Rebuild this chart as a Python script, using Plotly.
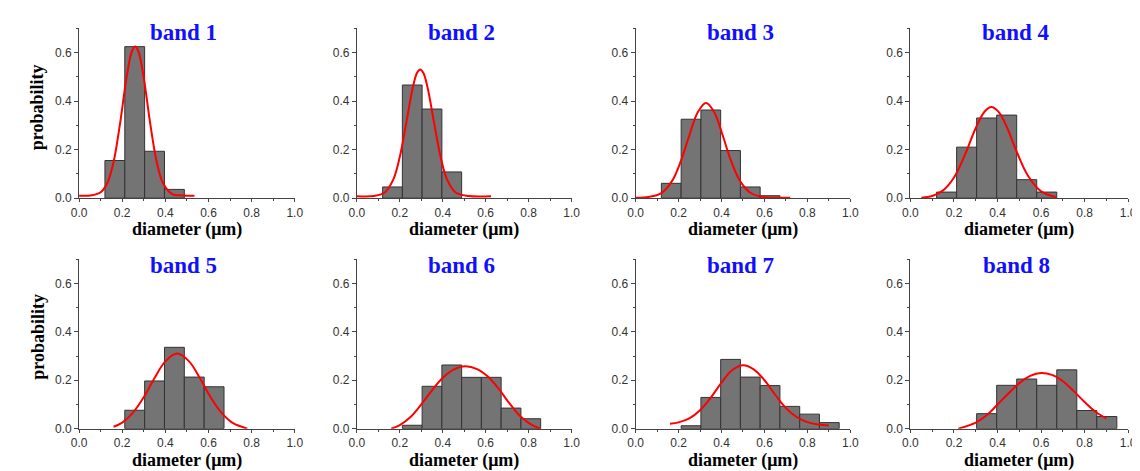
import plotly.graph_objects as go

# ---------------- data ----------------
band_names = ["band 1", "band 2", "band 3", "band 4", "band 5", "band 6", "band 7", "band 8"]
x_title = "diameter (μm)"
y_title = "probability"

bin_start = 0.12
bin_width = 0.092
n_bins = 9

# probability per bin (None = empty bin)
band1_prob = [0.155, 0.624, 0.193, 0.036, None, None, None, None, None]
band2_prob = [0.046, 0.466, 0.367, 0.108, None, None, None, None, None]
band3_prob = [0.061, 0.325, 0.363, 0.196, 0.046, 0.010, None, None, None]
band4_prob = [0.025, 0.210, 0.330, 0.342, 0.076, 0.025, None, None, None]
band5_prob = [None, 0.076, 0.197, 0.336, 0.213, 0.173, None, None, None]
band6_prob = [None, 0.014, 0.175, 0.263, 0.212, 0.212, 0.085, 0.041, None]
band7_prob = [None, 0.012, 0.129, 0.286, 0.213, 0.178, 0.092, 0.060, 0.025]
band8_prob = [None, None, 0.062, 0.179, 0.205, 0.179, 0.243, 0.075, 0.050]

# fitted curves
band1_fit_x = [0.0, 0.06, 0.10, 0.13, 0.16, 0.19, 0.22, 0.245, 0.26, 0.275, 0.30, 0.33, 0.36, 0.39, 0.43, 0.48, 0.535]
band1_fit_y = [0.010, 0.012, 0.024, 0.060, 0.149, 0.307, 0.495, 0.605, 0.625, 0.605, 0.495, 0.307, 0.149, 0.060, 0.018, 0.011, 0.010]
band2_fit_x = [0.0, 0.08, 0.13, 0.17, 0.20, 0.23, 0.26, 0.28, 0.295, 0.31, 0.33, 0.36, 0.39, 0.42, 0.46, 0.52, 0.625]
band2_fit_y = [0.008, 0.009, 0.023, 0.077, 0.170, 0.309, 0.453, 0.515, 0.530, 0.515, 0.453, 0.309, 0.170, 0.077, 0.023, 0.009, 0.008]
band3_fit_x = [0.0, 0.06, 0.12, 0.17, 0.21, 0.25, 0.29, 0.328, 0.365, 0.405, 0.445, 0.49, 0.54, 0.60, 0.72]
band3_fit_y = [0.002, 0.005, 0.021, 0.071, 0.151, 0.258, 0.355, 0.392, 0.356, 0.260, 0.152, 0.065, 0.019, 0.004, 0.002]
band4_fit_x = [0.05, 0.10, 0.15, 0.20, 0.25, 0.30, 0.34, 0.372, 0.405, 0.44, 0.49, 0.54, 0.60, 0.67]
band4_fit_y = [0.002, 0.009, 0.032, 0.085, 0.178, 0.289, 0.356, 0.375, 0.355, 0.298, 0.187, 0.092, 0.028, 0.004]
band5_fit_x = [0.16, 0.20, 0.25, 0.30, 0.35, 0.40, 0.455, 0.51, 0.56, 0.61, 0.66, 0.71, 0.78]
band5_fit_y = [0.008, 0.025, 0.066, 0.130, 0.209, 0.278, 0.310, 0.278, 0.209, 0.130, 0.066, 0.025, 0.0]
band6_fit_x = [0.16, 0.20, 0.25, 0.30, 0.35, 0.40, 0.45, 0.505, 0.56, 0.61, 0.66, 0.71, 0.76, 0.81, 0.855]
band6_fit_y = [0.0, 0.015, 0.048, 0.100, 0.158, 0.210, 0.244, 0.258, 0.246, 0.215, 0.165, 0.105, 0.052, 0.018, 0.0]
band7_fit_x = [0.16, 0.20, 0.25, 0.30, 0.35, 0.40, 0.45, 0.50, 0.55, 0.60, 0.65, 0.70, 0.75, 0.80, 0.85, 0.90]
band7_fit_y = [0.020, 0.026, 0.042, 0.076, 0.128, 0.190, 0.242, 0.262, 0.245, 0.200, 0.140, 0.085, 0.048, 0.027, 0.017, 0.013]
band8_fit_x = [0.22, 0.30, 0.35, 0.40, 0.45, 0.50, 0.55, 0.60, 0.65, 0.70, 0.75, 0.80, 0.85, 0.90]
band8_fit_y = [0.0, 0.025, 0.055, 0.100, 0.145, 0.188, 0.218, 0.230, 0.222, 0.196, 0.155, 0.110, 0.070, 0.042]

x_tick_vals = [0.0, 0.2, 0.4, 0.6, 0.8, 1.0]
x_tick_text = ["0.0", "0.2", "0.4", "0.6", "0.8", "1.0"]
y_tick_vals = [0.0, 0.2, 0.4, 0.6]
y_tick_text = ["0.0", "0.2", "0.4", "0.6"]

probs = [band1_prob, band2_prob, band3_prob, band4_prob,
         band5_prob, band6_prob, band7_prob, band8_prob]
fits = [(band1_fit_x, band1_fit_y), (band2_fit_x, band2_fit_y), (band3_fit_x, band3_fit_y),
        (band4_fit_x, band4_fit_y), (band5_fit_x, band5_fit_y), (band6_fit_x, band6_fit_y),
        (band7_fit_x, band7_fit_y), (band8_fit_x, band8_fit_y)]

bin_centers = [bin_start + bin_width * (i + 0.5) for i in range(n_bins)]

# ---------------- layout geometry ----------------
W, H = 1140, 471
col_px = [(64, 283), (346, 564), (629, 847), (908, 1129)]
row_px = [(20.5, 193), (255, 427)]      # (top, bottom) in px
band_title_y = [25, 261]
x_title_bottom = [237, 471]
y_title_y = [101, 334]

fig = go.Figure()
layout = dict(
    width=W, height=H,
    margin=dict(l=0, r=0, t=0, b=0),
    paper_bgcolor="white", plot_bgcolor="white",
    showlegend=False,
    annotations=[],
)

axis_color = "#444444"
tick_font = dict(family="Liberation Sans, Arial, sans-serif", size=12, color="#333333")
serif = "Liberation Serif, Times New Roman, serif"
title_font = dict(family=serif, size=18, color="black")

for k in range(8):
    r, c = divmod(k, 4)
    xa = "x" if k == 0 else f"x{k+1}"
    ya = "y" if k == 0 else f"y{k+1}"
    xkey = "xaxis" if k == 0 else f"xaxis{k+1}"
    ykey = "yaxis" if k == 0 else f"yaxis{k+1}"
    x0, x1 = col_px[c]
    top, bot = row_px[r]

    fig.add_trace(go.Bar(
        x=bin_centers, y=probs[k], width=bin_width,
        marker=dict(color="#747474", line=dict(color="#333333", width=1)),
        xaxis=xa, yaxis=ya, hoverinfo="skip",
    ))
    fx, fy = fits[k]
    fig.add_trace(go.Scatter(
        x=fx, y=fy, mode="lines", line=dict(color="#ff0000", width=2, shape="spline", smoothing=1.0),
        xaxis=xa, yaxis=ya, hoverinfo="skip",
    ))

    layout[xkey] = dict(
        domain=[x0 / W, x1 / W], anchor=ya, range=[0, 1.0],
        showline=True, linecolor=axis_color, linewidth=1,
        ticks="outside", ticklen=3, tickcolor=axis_color,
        tickvals=x_tick_vals, ticktext=x_tick_text, tickfont=tick_font,
        minor=dict(dtick=0.1, ticks="outside", ticklen=2, tickcolor=axis_color, showgrid=False),
        showgrid=False, zeroline=False,
    )
    layout[ykey] = dict(
        domain=[1 - bot / H, 1 - top / H], anchor=xa, range=[0, 0.7],
        showline=True, linecolor=axis_color, linewidth=1,
        ticks="outside", ticklen=4, tickcolor=axis_color,
        tickvals=y_tick_vals, ticktext=y_tick_text, tickfont=tick_font,
        minor=dict(dtick=0.1, ticks="outside", ticklen=2, tickcolor=axis_color, showgrid=False),
        showgrid=False, zeroline=False,
    )

    # band title
    layout["annotations"].append(dict(
        text=f"<b>{band_names[k]}</b>", xref="paper", yref="paper",
        x=((x0 + x1) / 2 - 3) / W, y=1 - band_title_y[r] / H,
        xanchor="center", yanchor="middle", showarrow=False,
        font=dict(family=serif, size=23, color="#1010ff"),
    ))
    # x-axis title
    layout["annotations"].append(dict(
        text=f"<b>{x_title}</b>", xref="paper", yref="paper",
        x=((x0 + x1) / 2) / W, y=1 - x_title_bottom[r] / H,
        xanchor="center", yanchor="bottom", showarrow=False,
        font=title_font, borderpad=0,
    ))
    # y-axis title (first column only)
    if c == 0:
        layout["annotations"].append(dict(
            text=f"<b>{y_title}</b>", xref="paper", yref="paper",
            x=22 / W, y=1 - y_title_y[r] / H, textangle=-90,
            xanchor="center", yanchor="middle", showarrow=False,
            font=title_font,
        ))

fig.update_layout(**layout)
fig.write_html("out.html")
